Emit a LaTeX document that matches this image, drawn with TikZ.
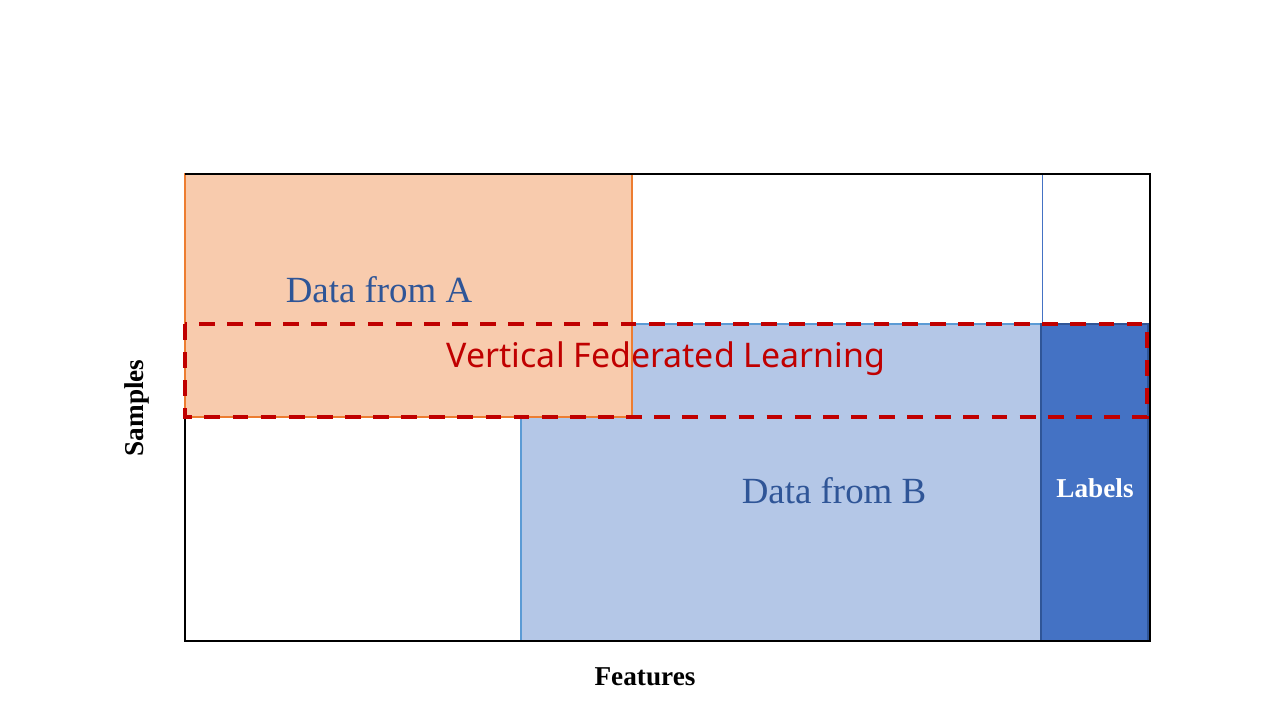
\documentclass[tikz,border=0pt]{standalone}
\usepackage{fontspec}
\setmainfont{Liberation Serif}
\newfontfamily\vflfont{Noto Sans}
\usetikzlibrary{positioning}
\definecolor{partA}{HTML}{F8CBAD}
\definecolor{partAline}{HTML}{ED7D31}
\definecolor{partB}{HTML}{B4C7E7}
\definecolor{partBline}{HTML}{5B9BD5}
\definecolor{labelblue}{HTML}{4472C4}
\definecolor{labelline}{HTML}{2F5597}
\definecolor{vflred}{HTML}{C00000}

\begin{document}
\begin{tikzpicture}[x=0.02cm,y=-0.02cm,
                    axis/.style={font=\fontsize{15.5}{18}\selectfont\bfseries},
                    part/.style={font=\fontsize{21}{24}\selectfont,text=labelline}]
  \useasboundingbox (0,0) rectangle (1280,720);
  % sample/feature space
  \draw[black,line width=0.8pt] (185,174) rectangle (1150,641);
  \draw[labelblue,line width=0.5pt] (1042,174) -- (1042,324);
  % the two parties and the label column
  \filldraw[fill=partB,draw=partBline,line width=0.6pt] (521,641) rectangle (1041,324);
  \filldraw[fill=partA,draw=partAline,line width=0.6pt] (185,174) rectangle (632,417);
  \filldraw[fill=labelblue,draw=labelline,line width=0.6pt] (1041,324) rectangle (1148,641);
  \draw[black,line width=0.8pt] (185,174) -- (1150,174) -- (1150,641) -- (185,641);
  % overlap used for training
  \draw[vflred,line width=2.3pt,dash pattern=on 9pt off 7pt] (185,324) rectangle (1147,417);
  % texts
  \node[part] (a) at (379,290) {Data from A};
  \node[part] (b) at (834,491) {Data from B};
  \node[font=\vflfont\fontsize{19.3}{23}\selectfont,text=vflred] (vfl) at (666,359) {Vertical Federated Learning};
  \node[axis,text=white] (lab) at (1095,488) {Labels};
  \node[axis,rotate=90] (smp) at (137,408) {Samples};
  \node[axis] (feat) at (645,677) {Features};
\end{tikzpicture}
\end{document}
